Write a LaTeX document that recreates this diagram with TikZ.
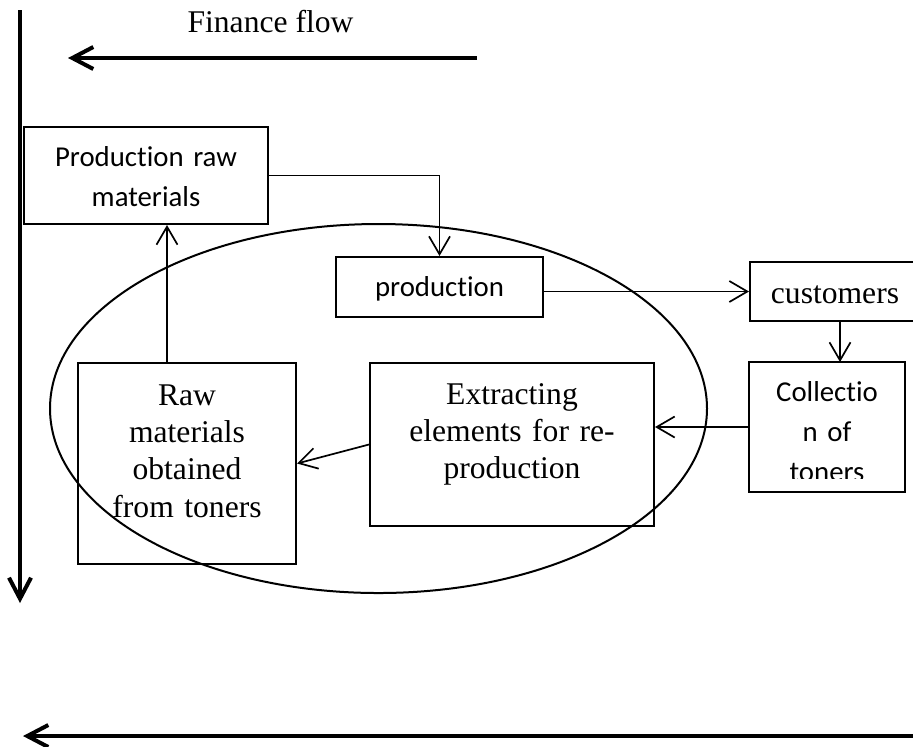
\documentclass[tikz,border=0pt]{standalone}
\usepackage{fontspec}
\setmainfont{Liberation Serif}
\newfontfamily\calibrifont[Ligatures={NoCommon}]{Carlito}
\usetikzlibrary{arrows.meta}
\begin{document}
\begin{tikzpicture}[x=0.5pt,y=-0.5pt,
  box/.style={draw,line width=1pt,inner sep=0pt,anchor=north,align=center},
  serifbox/.style={box,font=\fontsize{15.8}{18.7}\selectfont},
  sansbox/.style={box,font=\calibrifont\fontsize{14.4}{20}\selectfont},
  conn/.style={line width=0.85pt,-{Straight Barb[length=9pt,width=10.5pt,line width=0.85pt]}},
  flow/.style={line width=2pt,-{Straight Barb[length=10.5pt,width=11pt,line width=2pt]}},
]
\clip (0,0) rectangle (913,746);
\fill[white] (0,0) rectangle (913,746);

% finance flow arrows
\node[font=\fontsize{15.8}{18.7}\selectfont,anchor=base,inner sep=0pt] (fin) at (270.5,32) {Finance flow};
\coordinate (ftop) at (477,58);
\coordinate (ftopend) at (68,58);
\draw[flow] (ftop) -- (ftopend);
\coordinate (vtop) at (20,10);
\coordinate (vbot) at (20,603);
\draw[flow] (vtop) -- (vbot);
\coordinate (bstart) at (916,736);
\coordinate (bend) at (23,736);
\draw[flow] (bstart) -- (bend);

% ellipse
\draw[line width=1pt] (378.5,408.5) ellipse [x radius=164.25pt, y radius=92.25pt];

% boxes
\node[sansbox,text width=122pt,text height=19.5pt,text depth=29pt] (prm) at (146,126) {Production raw\\materials};
\node[sansbox,text width=103.5pt,text height=19.5pt,text depth=10.5pt] (prod) at (439.5,256) {production};
\node[serifbox,text width=85pt,text height=20.5pt,text depth=9pt] (cust) at (835,261) {customers};
\begin{scope}
  \clip (740,300) rectangle (910,478);
  \node[sansbox,draw=none,text width=77pt,text height=19pt,text depth=45pt] (coll) at (827,362) {Collectio\\n of\\toners};
\end{scope}
\draw[line width=1pt] (coll.south west) rectangle (coll.north east);
\node[serifbox,text width=142pt,text height=20.5pt,text depth=61pt] (extr) at (512,362) {Extracting\\elements for re-\\production};
\node[serifbox,text width=109pt,text height=21pt,text depth=79.5pt] (raw) at (187,362) {Raw\\materials\\obtained\\from toners};

% connectors
\draw[conn] (prm.east) -| (prod.north);
\draw[conn] ([xshift=45pt]raw.north west) -- ([xshift=45pt]raw.north west |- prm.south);
\draw[conn] (prod.east |- cust.west) -- (cust.west);
\draw[conn] ([xshift=2.5pt]cust.south) -- ([xshift=2.5pt]cust.south |- coll.north);
\draw[conn] (coll.west) -- (coll.west -| extr.east);
\draw[conn] (extr.west) -- (raw.east);
\end{tikzpicture}
\end{document}
